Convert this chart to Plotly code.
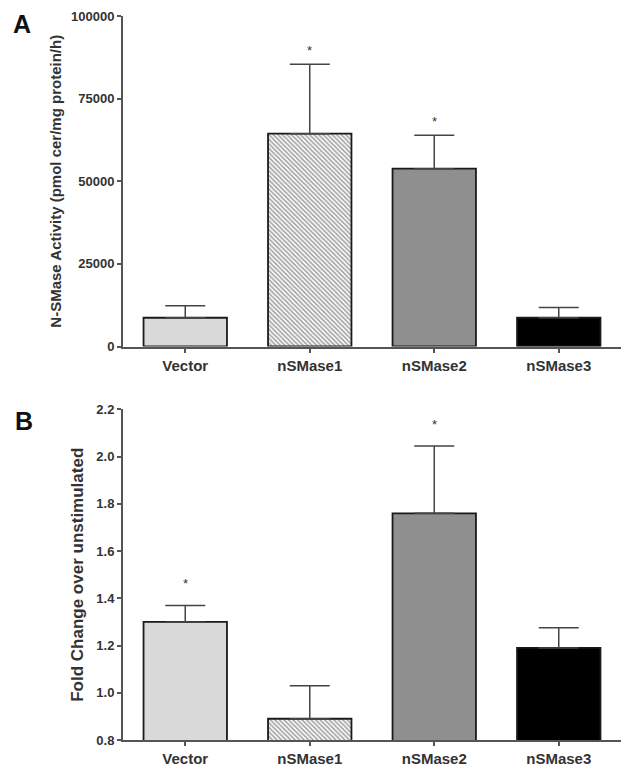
import plotly.graph_objects as go
from plotly.subplots import make_subplots

# data
groups = ["Vector", "nSMase1", "nSMase2", "nSMase3"]

activity_mean = [8700, 64400, 53800, 8700]
activity_sem = [3600, 21000, 10100, 3100]
activity_sig = [False, True, True, False]

fold_mean = [1.30, 0.89, 1.76, 1.19]
fold_sem = [0.07, 0.14, 0.285, 0.085]
fold_sig = [True, False, True, False]

bar_colors = ["#d9d9d9", "white", "#8f8f8f", "#000000"]
patterns = ["", "\\", "", ""]

FONT = "Liberation Sans, Arial, sans-serif"
AXIS = "#555555"

fig = make_subplots(rows=2, cols=1, vertical_spacing=0.087)


def add_panel(row, means, sems):
    fig.add_trace(go.Bar(
        x=groups, y=means,
        marker=dict(
            color=bar_colors,
            line=dict(color="#1a1a1a", width=1.8),
            pattern=dict(shape=patterns, fgcolor="#4a4a4a", bgcolor="#f2f2f2",
                         size=3.2, solidity=0.5),
        ),
        error_y=dict(type="data", symmetric=False, array=sems,
                     arrayminus=[0] * len(sems), color="#444444",
                     thickness=1.5, width=20),
        showlegend=False,
    ), row=row, col=1)


add_panel(1, activity_mean, activity_sem)
add_panel(2, fold_mean, fold_sem)

# significance stars
for row, means, sems, sig, shift in [(1, activity_mean, activity_sem, activity_sig, 14),
                                     (2, fold_mean, fold_sem, fold_sig, 22)]:
    for g, m, s, flag in zip(groups, means, sems, sig):
        if flag:
            fig.add_annotation(x=g, y=m + s, text="*", showarrow=False,
                               yshift=shift, font=dict(size=13, color="#333333", family=FONT),
                               row=row, col=1)

xaxis_style = dict(
    showline=True, linecolor=AXIS, linewidth=2, ticks="outside", ticklen=4,
    tickcolor=AXIS, tickwidth=1.5, showgrid=False, zeroline=False, automargin=False,
    tickfont=dict(family=FONT, size=15, color="#333333", weight="bold"),
)
yaxis_style = dict(
    showline=True, linecolor=AXIS, linewidth=2, ticks="outside", ticklen=4,
    tickcolor=AXIS, tickwidth=1.5, showgrid=False, zeroline=False, automargin=False,
    tickfont=dict(family=FONT, size=13, color="#333333", weight="bold"),
)

fig.update_xaxes(**xaxis_style)
fig.update_yaxes(**yaxis_style)

fig.update_yaxes(range=[0, 100000], dtick=25000, tickformat="d",
                 title=dict(text="N-SMase Activity (pmol cer/mg protein/h)", standoff=6,
                            font=dict(family=FONT, size=15, color="#333333", weight="bold")),
                 row=1, col=1)
fig.update_yaxes(range=[0.8, 2.2], dtick=0.2, tickformat=".1f",
                 title=dict(text="Fold Change over unstimulated", standoff=8,
                            font=dict(family=FONT, size=17, color="#333333", weight="bold")),
                 row=2, col=1)

# panel letters
fig.add_annotation(text="A", xref="paper", yref="paper", x=-0.225, y=1.011,
                   xanchor="left", yanchor="top", showarrow=False,
                   font=dict(family=FONT, size=25, color="#111111", weight="bold"))
fig.add_annotation(text="B", xref="paper", yref="paper", x=-0.221, y=0.463,
                   xanchor="left", yanchor="top", showarrow=False,
                   font=dict(family=FONT, size=25, color="#111111", weight="bold"))

fig.update_layout(
    width=635, height=769,
    margin=dict(l=123, r=14, t=16, b=29),
    bargap=0.33,
    plot_bgcolor="white", paper_bgcolor="white",
    font=dict(family=FONT),
)

# page has a default body margin; drop it so the figure sits at the window corner
fig.write_html("out.html", config={"displayModeBar": False},
               post_script="document.body.style.margin = '0';")
